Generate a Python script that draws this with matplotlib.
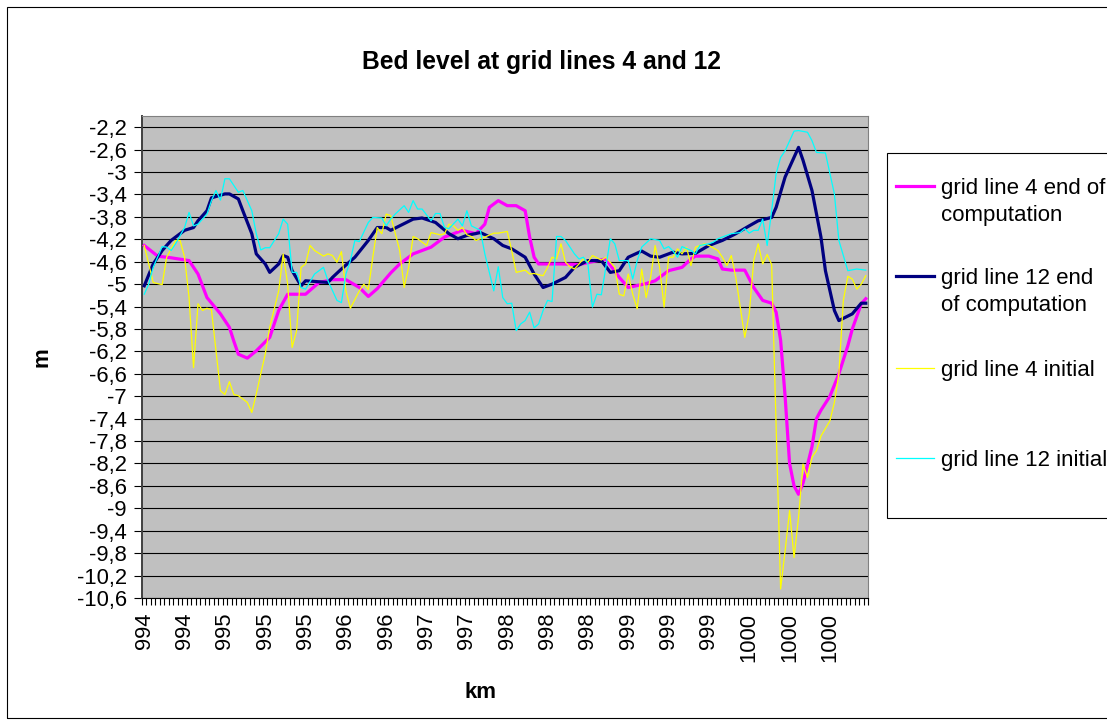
import matplotlib
matplotlib.use("Agg")
import matplotlib.pyplot as plt
from matplotlib.lines import Line2D
from matplotlib.patches import Rectangle

plt.rcParams['font.family'] = ['Liberation Sans', 'DejaVu Sans']

# ---------------- data ----------------
title = "Bed level at grid lines 4 and 12"
x_label = "km"
y_label = "m"
n_categories = 162
label_every = 9
km_labels = ["994", "994", "995", "995", "995", "996", "996", "997", "997",
             "998", "998", "998", "999", "999", "999", "1000", "1000", "1000"]
y_ticks = [-2.2, -2.6, -3.0, -3.4, -3.8, -4.2, -4.6, -5.0, -5.4, -5.8, -6.2,
           -6.6, -7.0, -7.4, -7.8, -8.2, -8.6, -9.0, -9.4, -9.8, -10.2, -10.6]
y_min, y_max = -10.6, -2.0

series_names = ["grid line 4 end of\ncomputation", "grid line 12 end\nof computation",
                "grid line 4 initial", "grid line 12 initial"]
series_colors = ["#FF00FF", "#000080", "#FFFF00", "#00FFFF"]

# (category index, bed level m)
gl4_end = [(0, -4.31), (3, -4.50), (6, -4.53), (10, -4.58), (12, -4.82), (14, -5.24),
           (17, -5.53), (19, -5.77), (20, -6.02), (21, -6.25), (23, -6.32), (25, -6.19),
           (28, -5.95), (30, -5.47), (32, -5.18), (36, -5.18), (39, -4.97), (42, -4.92),
           (45, -4.92), (48, -5.06), (50, -5.22), (52, -5.08), (55, -4.80), (57, -4.64),
           (60, -4.46), (64, -4.34), (67, -4.16), (71, -4.04), (74, -4.10), (76, -3.93),
           (77, -3.63), (79, -3.51), (81, -3.60), (83, -3.60), (85, -3.69), (86, -4.16),
           (87, -4.52), (88, -4.64), (93, -4.64), (97, -4.65), (103, -4.55), (106, -4.88),
           (108, -5.06), (112, -4.99), (114, -4.94), (117, -4.76), (120, -4.70), (122, -4.55),
           (123, -4.50), (126, -4.50), (128, -4.55), (129, -4.73), (131, -4.75), (134, -4.75),
           (136, -5.06), (138, -5.29), (140, -5.34), (141, -5.50), (142, -6.00), (143, -7.00),
           (144, -8.20), (145, -8.60), (146, -8.75), (147, -8.55), (149, -7.90), (150, -7.40),
           (151, -7.25), (153, -7.00), (155, -6.60), (157, -6.10), (158, -5.80), (160, -5.35),
           (161, -5.26)]

gl12_end = [(0, -5.03), (2, -4.64), (4, -4.40), (6, -4.22), (9, -4.04), (11, -3.99),
            (12, -3.87), (14, -3.69), (15, -3.46), (18, -3.39), (19, -3.39), (21, -3.48),
            (22, -3.69), (24, -4.10), (25, -4.46), (27, -4.64), (28, -4.79), (30, -4.64),
            (31, -4.49), (32, -4.52), (33, -4.76), (35, -5.03), (36, -4.94), (41, -4.97),
            (42, -4.88), (44, -4.73), (47, -4.52), (50, -4.22), (52, -3.99), (54, -3.99),
            (55, -4.04), (57, -3.96), (60, -3.84), (62, -3.82), (65, -3.90), (68, -4.10),
            (70, -4.19), (72, -4.13), (75, -4.08), (78, -4.19), (80, -4.31), (82, -4.37),
            (85, -4.52), (87, -4.82), (89, -5.06), (91, -5.00), (94, -4.88), (96, -4.70),
            (99, -4.58), (102, -4.58), (104, -4.79), (106, -4.76), (108, -4.52), (111, -4.41),
            (113, -4.50), (115, -4.52), (118, -4.43), (120, -4.46), (123, -4.45), (126, -4.31),
            (129, -4.22), (132, -4.10), (135, -3.96), (137, -3.87), (140, -3.81), (141, -3.63),
            (143, -3.09), (146, -2.56), (147, -2.79), (149, -3.33), (151, -4.16), (152, -4.76),
            (154, -5.47), (155, -5.65), (158, -5.53), (160, -5.34), (161, -5.34)]

gl4_init = [(0, -4.31), (1, -4.64), (2, -4.97), (4, -5.01), (5, -4.52), (7, -4.22),
            (8, -4.22), (9, -4.52), (10, -5.24), (11, -6.49), (12, -5.35), (13, -5.47),
            (14, -5.43), (15, -5.46), (17, -6.90), (18, -6.97), (19, -6.74), (20, -6.97),
            (21, -6.99), (23, -7.11), (24, -7.29), (25, -6.96), (26, -6.60), (27, -6.25),
            (28, -5.77), (30, -5.12), (31, -4.46), (32, -5.00), (33, -6.13), (34, -5.83),
            (35, -4.70), (36, -4.64), (37, -4.31), (38, -4.40), (40, -4.50), (41, -4.46),
            (42, -4.49), (43, -4.61), (44, -4.42), (45, -5.12), (46, -5.43), (48, -5.12),
            (49, -5.00), (50, -5.10), (51, -4.52), (52, -3.99), (53, -4.10), (54, -3.75),
            (55, -3.78), (57, -4.40), (58, -5.06), (59, -4.70), (60, -4.15), (61, -4.19),
            (63, -4.31), (64, -4.08), (66, -4.12), (67, -4.10), (68, -3.93), (69, -3.96),
            (70, -4.04), (71, -3.99), (72, -4.12), (73, -4.15), (74, -4.22), (76, -4.16),
            (78, -4.09), (79, -4.09), (81, -4.06), (82, -4.40), (83, -4.79), (85, -4.75),
            (86, -4.82), (87, -4.81), (89, -4.85), (90, -4.70), (91, -4.52), (92, -4.55),
            (93, -4.28), (94, -4.61), (95, -4.69), (96, -4.73), (98, -4.55), (99, -4.61),
            (100, -4.49), (102, -4.57), (103, -4.52), (105, -4.70), (106, -5.18), (107, -5.21),
            (108, -4.82), (109, -5.18), (110, -5.44), (111, -4.73), (112, -5.24), (113, -4.88),
            (114, -4.31), (115, -4.70), (116, -5.41), (117, -4.52), (118, -4.52), (119, -4.37),
            (120, -4.46), (121, -4.34), (122, -4.67), (123, -4.34), (125, -4.28), (126, -4.31),
            (128, -4.40), (129, -4.52), (130, -4.67), (131, -4.49), (132, -4.88), (134, -5.95),
            (135, -5.53), (136, -4.58), (137, -4.28), (138, -4.64), (139, -4.47), (140, -4.65),
            (142, -10.44), (143, -9.76), (144, -9.04), (145, -9.88), (146, -9.16), (147, -8.21),
            (148, -8.45), (149, -8.09), (150, -7.97), (151, -7.71), (153, -7.44), (154, -7.11),
            (155, -6.60), (156, -5.29), (157, -4.86), (158, -4.91), (159, -5.09), (160, -5.00),
            (161, -4.85)]

gl12_init = [(0, -5.18), (1, -5.00), (2, -4.70), (4, -4.33), (5, -4.34), (6, -4.40),
             (7, -4.28), (9, -3.99), (10, -3.72), (11, -3.96), (12, -3.93), (14, -3.75),
             (15, -3.51), (16, -3.33), (17, -3.50), (18, -3.12), (19, -3.12), (21, -3.36),
             (22, -3.33), (24, -3.69), (25, -4.10), (26, -4.39), (27, -4.35), (28, -4.35),
             (30, -4.10), (31, -3.84), (32, -3.93), (33, -4.79), (34, -4.79), (35, -5.06),
             (36, -5.09), (38, -4.82), (40, -4.70), (41, -4.94), (43, -5.29), (44, -5.33),
             (45, -4.82), (46, -4.58), (47, -4.22), (48, -4.24), (50, -3.90), (51, -3.81),
             (53, -3.82), (54, -3.96), (55, -3.84), (56, -3.75), (58, -3.60), (59, -3.72),
             (60, -3.51), (61, -3.66), (62, -3.66), (64, -3.87), (65, -3.74), (66, -3.74),
             (67, -3.99), (68, -4.01), (70, -3.84), (71, -3.96), (72, -3.69), (73, -3.96),
             (75, -4.04), (76, -4.46), (78, -5.12), (79, -4.69), (80, -5.24), (81, -5.35),
             (82, -5.34), (83, -5.83), (84, -5.71), (85, -5.65), (86, -5.50), (87, -5.78),
             (88, -5.71), (89, -5.47), (90, -5.29), (91, -5.31), (92, -4.15), (93, -4.15),
             (94, -4.22), (96, -4.46), (97, -4.55), (98, -4.52), (99, -4.64), (100, -5.41),
             (101, -5.18), (102, -5.19), (103, -4.70), (104, -4.19), (105, -4.28), (106, -4.58),
             (108, -4.58), (109, -4.91), (110, -4.58), (111, -4.34), (113, -4.19), (115, -4.22),
             (116, -4.37), (117, -4.33), (118, -4.41), (119, -4.52), (120, -4.33), (122, -4.40),
             (123, -4.46), (124, -4.31), (126, -4.28), (127, -4.25), (128, -4.19), (130, -4.13),
             (131, -4.10), (133, -4.08), (134, -4.01), (135, -4.09), (136, -4.04), (137, -4.04),
             (138, -3.84), (139, -4.31), (140, -3.69), (141, -3.03), (142, -2.74), (143, -2.62),
             (145, -2.27), (146, -2.26), (148, -2.29), (149, -2.44), (150, -2.65), (152, -2.66),
             (154, -3.39), (155, -4.22), (157, -4.76), (159, -4.73), (161, -4.75)]

series_data = [gl4_end, gl12_end, gl4_init, gl12_init]
series_widths = [2.3, 2.3, 0.9, 0.9]

# ---------------- layout ----------------
W, H = 1107, 725
fig = plt.figure(figsize=(W / 100, H / 100), dpi=100)
fig.patch.set_facecolor("white")


def fx(x):
    return x / W


def fy(y):
    return 1 - y / H


# outer chart border
fig.add_artist(Rectangle((fx(7), fy(718)), fx(1125) - fx(7), fy(7) - fy(718),
                         transform=fig.transFigure, fill=False, edgecolor="black",
                         linewidth=0.8))

ax = fig.add_axes([fx(142), fy(598), fx(868) - fx(142), fy(116) - fy(598)])
ax.set_facecolor("#C0C0C0")

for data, color, lw in zip(series_data, series_colors, series_widths):
    xs = [p[0] for p in data]
    ys = [p[1] for p in data]
    ax.plot(xs, ys, color=color, linewidth=lw, solid_joinstyle="round", zorder=3)

ax.set_xlim(-0.5, n_categories - 0.5)
ax.set_ylim(y_min, y_max)

# y axis
ax.set_yticks(y_ticks)
ax.set_yticklabels([f"{v:g}".replace(".", ",") for v in y_ticks])
ax.yaxis.grid(True, color="black", linewidth=0.8, zorder=1)
ax.set_axisbelow(True)
ax.tick_params(axis="y", direction="out", length=6, width=0.8, pad=5,
               labelsize=15.8, colors="black")

# x axis: tick marks at category boundaries, labels every 9 categories
ax.set_xticks([i - 0.5 for i in range(n_categories + 1)])
ax.set_xticklabels([])
ax.tick_params(axis="x", which="major", direction="out", length=5, width=0.8,
               colors="black")
ax.set_xticks([k * label_every for k in range(len(km_labels))], minor=True)
ax.set_xticklabels(km_labels, minor=True, rotation=90, ha="center", va="top")
ax.tick_params(axis="x", which="minor", length=0, pad=10.5, labelsize=15.8)

for side in ["top", "right"]:
    ax.spines[side].set_color("#808080")
    ax.spines[side].set_linewidth(0.8)
ax.spines["left"].set_color("#404040")
ax.spines["left"].set_linewidth(1.4)
ax.spines["bottom"].set_color("black")
ax.spines["bottom"].set_linewidth(0.8)

# titles
fig.text(fx(541), fy(62), title, ha="center", va="center", fontsize=17.7,
         fontweight="bold")
fig.text(fx(42), fy(357), y_label, ha="center", va="center", fontsize=16,
         fontweight="bold", rotation=90)
fig.text(fx(481), fy(692), x_label, ha="center", va="center", fontsize=16,
         fontweight="bold")

# legend (drawn manually to mimic Excel's layout)
fig.add_artist(Rectangle((fx(887), fy(518)), fx(1125) - fx(887), fy(153) - fy(518),
                         transform=fig.transFigure, facecolor="white",
                         edgecolor="black", linewidth=0.8))
sample_y = [186, 276, 368, 458]
line_gap = 26.5
for name, color, lw, sy in zip(series_names, series_colors, series_widths, sample_y):
    fig.add_artist(Line2D([fx(896), fx(934)], [fy(sy), fy(sy)], color=color,
                          linewidth=lw, transform=fig.transFigure))
    for j, part in enumerate(name.split("\n")):
        fig.text(fx(941), fy(sy + 8 + j * line_gap), part, ha="left",
                 va="baseline", fontsize=16)

fig.savefig("out.png", dpi=100, facecolor="white")
